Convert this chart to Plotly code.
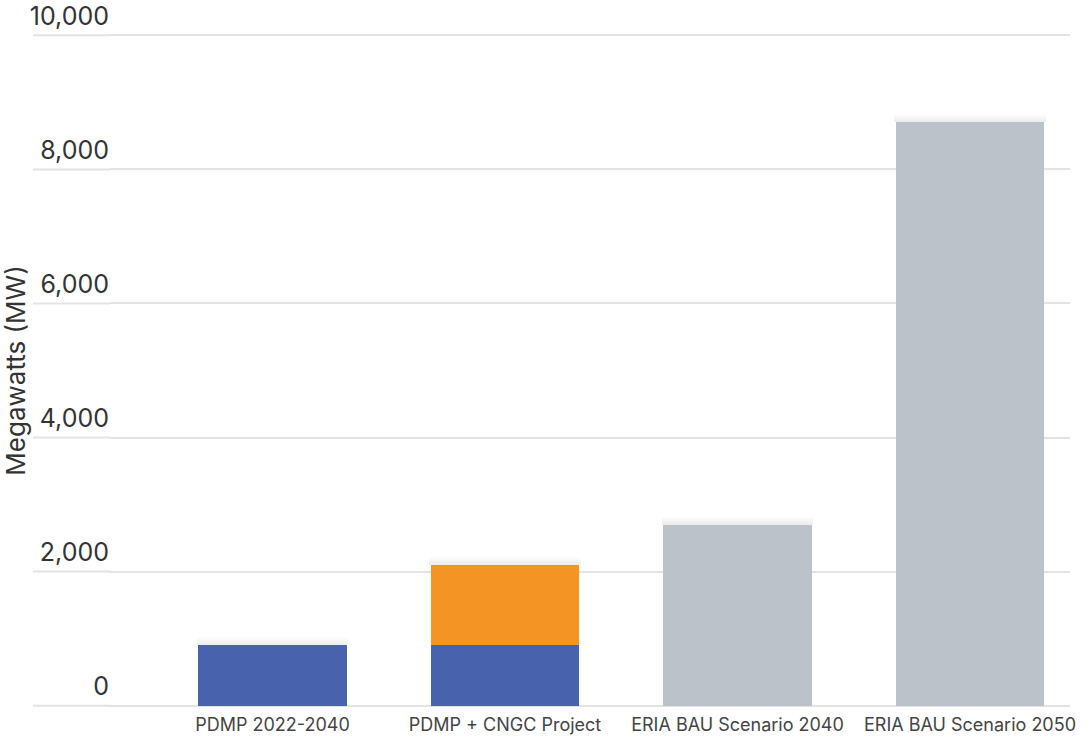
import plotly.graph_objects as go

# Installed capacity by scenario (MW)
categories = ["PDMP 2022-2040", "PDMP + CNGC Project",
              "ERIA BAU Scenario 2040", "ERIA BAU Scenario 2050"]
pdmp_mw = [900, 900, 0, 0]
cngc_mw = [0, 1200, 0, 0]
eria_mw = [0, 0, 2700, 8700]
y_ticks = [0, 2000, 4000, 6000, 8000, 10000]
y_tick_text = ["0", "2,000", "4,000", "6,000", "8,000", "10,000"]

BLUE = "#4862AE"
ORANGE = "#F39424"
GREY = "#BCC2CA"
GRID = "#E3E3E3"
FONT = "Inter"

fig = go.Figure()

# faint soft shadow above each bar top
totals = [a + b + c for a, b, c in zip(pdmp_mw, cngc_mw, eria_mw)]
for h in [20, 40, 60, 80, 100, 120]:
    fig.add_trace(go.Bar(
        x=categories, y=[h] * len(totals), base=totals,
        marker=dict(color="rgba(90,90,90,0.016)", line=dict(width=0)),
        width=0.652, showlegend=False, hoverinfo="skip",
    ))

for vals, color in [(pdmp_mw, BLUE), (cngc_mw, ORANGE), (eria_mw, GREY)]:
    fig.add_trace(go.Bar(
        x=categories, y=[v if v else None for v in vals],
        marker=dict(color=color, line=dict(width=0)),
        width=0.64, showlegend=False, hoverinfo="x+y",
    ))

# gridlines continue left beneath the tick labels
for v in y_ticks:
    fig.add_shape(type="line", xref="paper", yref="y",
                  x0=-0.0802, x1=0, y0=v, y1=v,
                  line=dict(color=GRID, width=2), layer="below")

fig.update_layout(
    width=1090, height=741,
    barmode="stack",
    plot_bgcolor="white", paper_bgcolor="white",
    margin=dict(l=110, r=20, t=34, b=34),
    font=dict(family=FONT, color="#333333"),
)
fig.update_xaxes(
    range=[-0.699, 3.43], showgrid=False, zeroline=False, showline=False,
    ticks="", tickfont=dict(size=18, color="#444444", family=FONT),
    ticklabelstandoff=5, automargin=False,
)
fig.update_yaxes(
    range=[-20, 10020], tickvals=y_ticks, ticktext=y_tick_text,
    showgrid=True, gridcolor=GRID, gridwidth=2,
    zeroline=True, zerolinecolor=GRID, zerolinewidth=2,
    showline=False, ticks="", automargin=False,
    ticklabelposition="outside top", ticklabelshift=-2,
    tickfont=dict(size=25, color="#333333", family=FONT),
    title=dict(text="Megawatts (MW)", font=dict(size=26, color="#333333", family=FONT),
               standoff=0),
)

fig.write_html("out.html")
